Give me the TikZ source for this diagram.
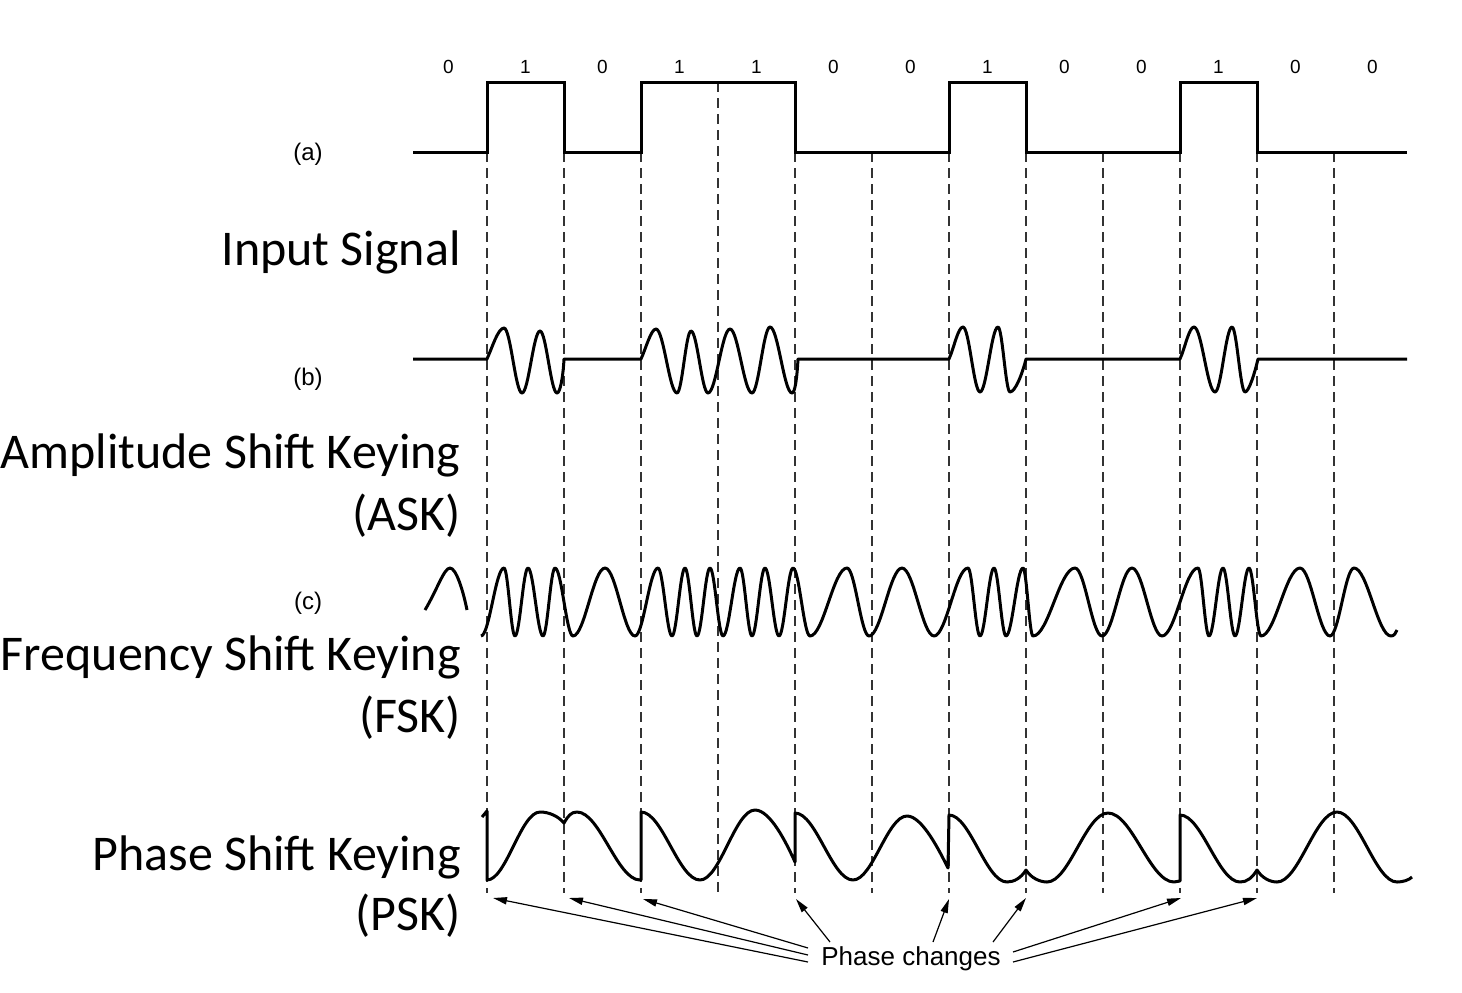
\documentclass[tikz,border=0pt]{standalone}
\usepackage{fontspec}
\setmainfont{Carlito}
\newfontfamily\helv{Liberation Sans}
\usetikzlibrary{arrows.meta}
\newcommand\mywave[3]{\foreach \x/\y [remember=\x as \px (initially #1), remember=\y as \py (initially #2)] in {#3} { .. controls ({\px+0.3634*(\x-\px)},\py) and ({\x-0.3634*(\x-\px)},\y) .. (\x,\y)}}
\begin{document}
\begin{tikzpicture}[x=0.5pt,y=-0.5pt,
  sig/.style={line width=1.5pt, line join=round},
  dsh/.style={line width=0.7pt, black!80, dash pattern=on 5pt off 3pt},
  bigtxt/.style={font=\fontsize{25}{30}\selectfont, anchor=base east, inner sep=0pt},
  bitlbl/.style={font=\helv\fontsize{9.5}{11}\selectfont, anchor=base, inner sep=0pt},
  partlbl/.style={font=\helv\fontsize{12}{14}\selectfont, inner sep=0pt},
  parrow/.style={line width=0.6pt, -{Triangle[length=7pt,width=3.6pt]}}]
\useasboundingbox (0,0) rectangle (1462,992);

% dashed bit boundaries
\foreach \bx in {487,564,641,795,872,949,1026,1103,1180,1257,1334}
  \draw[dsh] (\bx,152) -- (\bx,893);
\draw[dsh] (718,82) -- (718,893);

% bit labels
\foreach \b [count=\i] in {0,1,0,1,1,0,0,1,0,0,1,0,0}
  \node[bitlbl] (bit\i) at ({448.5+77*(\i-1)},73) {\b};

% part labels
\node[partlbl] (la) at (308,154) {(a)};
\node[partlbl] (lb) at (308,379) {(b)};
\node[partlbl] (lc) at (308,603) {(c)};

% big titles
\node[bigtxt] (tin) at (461,265) {Input Signal};
\node[bigtxt] (task1) at (461,468) {Amplitude Shift Keying};
\node[bigtxt] (task2) at (461,530) {(ASK)};
\node[bigtxt] (tfsk1) at (461,670) {Frequency Shift Keying};
\node[bigtxt] (tfsk2) at (461,732) {(FSK)};
\node[bigtxt] (tpsk1) at (461,870) {Phase Shift Keying};
\node[bigtxt] (tpsk2) at (461,930) {(PSK)};

% (a) input signal
\draw[sig, line join=miter] (413,152) -- (487,152) -- (487,82) -- (564,82) -- (564,152) -- (641,152) -- (641,82) -- (795,82) -- (795,152) -- (949,152) -- (949,82) -- (1026,82) -- (1026,152) -- (1180,152) -- (1180,82) -- (1257,82) -- (1257,152) -- (1407,152);

% (b) ASK
\draw[sig] (413,359) -- (487,359) .. controls (492,348) and (498,328) .. (504,328)
  \mywave{504}{328}{522/393,540/331,557/393} .. controls (560,393) and (563,378) .. (564,359)
  -- (641,359) .. controls (646,348) and (651,329) .. (656,329)
  \mywave{656}{329}{677/393,691/331,708/393,730/329,752/393,770/327,792/393} .. controls (795,393) and (797,378) .. (798,359)
  -- (949,359) .. controls (954,348) and (958,327) .. (963,327)
  \mywave{963}{327}{980/392,998/327,1010/392} .. controls (1015,392) and (1022,375) .. (1026,359)
  -- (1180,359) .. controls (1185,348) and (1189,327) .. (1194,327)
  \mywave{1194}{327}{1215/392,1232/327,1245/392} .. controls (1249,392) and (1255,372) .. (1258,359)
  -- (1407,359);

% (c) FSK
\draw[sig] (425,610) .. controls (437,590) and (444,568) .. (450,568) .. controls (456,568) and (463,590) .. (467,610);
\draw[sig] (481,636) \mywave{481}{636}{504/568,515/636,528/568,543/636,555/568,573/636,605/568,635/636,658/568,672/636,685/568,697/636,710/568,723/636,740/568,752/636,765/568,779/636,793/568,810/636,847/568,869/636,902/568,934/636,968/568,980/636,994/568,1006/636,1023/568,1033/636,1075/568,1102/636,1132/568,1162/636,1198/568,1209/636,1223/568,1235/636,1249/568,1261/636,1300/568,1330/636,1354/568,1391/636} .. controls (1394,636) and (1396,633) .. (1397,630);

% (d) PSK
\draw[sig] (482,817) -- (487,811) -- (487,880) \mywave{487}{880}{540/812}
  .. controls (549,812) and (558,816) .. (564,823) .. controls (568,816) and (571,812) .. (577,812)
  \mywave{577}{812}{640/880} -- (641,880) -- (641,812)
  \mywave{641}{812}{700/880,755/810} .. controls (770,810) and (786,842) .. (795,862) -- (795,813)
  \mywave{795}{813}{853/880,907/816} .. controls (922,816) and (939,850) .. (948,868) -- (949,815)
  \mywave{949}{815}{1007/882} .. controls (1014,882) and (1021,878) .. (1026,870) .. controls (1031,878) and (1040,882) .. (1047,882)
  \mywave{1047}{882}{1108/813,1174/882} -- (1180,881) -- (1180,815)
  \mywave{1180}{815}{1240/882} .. controls (1247,882) and (1252,878) .. (1257,870) .. controls (1262,878) and (1270,882) .. (1277,882)
  \mywave{1277}{882}{1337/812,1397/882} .. controls (1403,882) and (1409,880) .. (1412,877);

% phase changes
\node[font=\helv\fontsize{13}{15}\selectfont, anchor=base, inner sep=0pt] (pc) at (911,965) {Phase changes};
\coordinate (t1) at (493,898);
\coordinate (t2) at (569,898);
\coordinate (t3) at (643,899);
\coordinate (t4) at (796,899);
\coordinate (t5) at (949,899);
\coordinate (t6) at (1026,898);
\coordinate (t7) at (1181,898);
\coordinate (t8) at (1257,898);
\coordinate (s1) at (808,962);
\coordinate (s2) at (808,955);
\coordinate (s3) at (808,948);
\coordinate (s4) at (830,942);
\coordinate (s5) at (933,942);
\coordinate (s6) at (993,942);
\coordinate (s7) at (1013,952);
\coordinate (s8) at (1013,962);
\foreach \k in {1,...,8} \draw[parrow] (s\k) -- (t\k);
\end{tikzpicture}
\end{document}
